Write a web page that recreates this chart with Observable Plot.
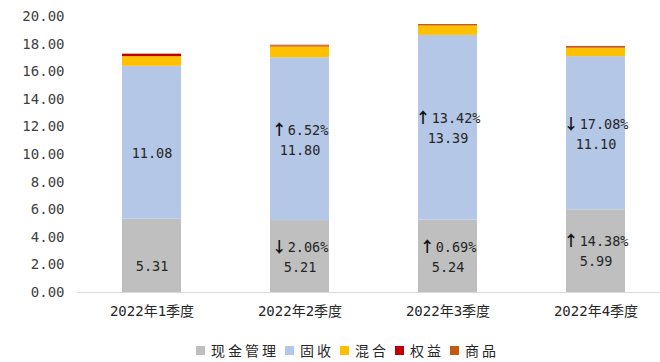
<!DOCTYPE html>
<html>
<head>
<meta charset="utf-8">
<script src="https://cdn.jsdelivr.net/npm/d3@7"></script>
<script src="https://cdn.jsdelivr.net/npm/@observablehq/plot@0.6"></script>
<style>
  html, body { margin: 0; padding: 0; background: #fff; }
  #wrap { position: relative; width: 660px; height: 362px; overflow: hidden; }
  #legend { position: absolute; left: 196px; top: 340px; display: flex; align-items: center;
    font-family: "Noto Sans CJK SC", sans-serif; font-size: 14px; color: #262626; letter-spacing: 3px; }
  #legend .item { display: flex; align-items: center; margin-right: 6px; }
  #legend .sw { width: 9px; height: 9px; margin-right: 6px; }
</style>
</head>
<body>
<div id="wrap"><div id="chart"></div><div id="legend"></div></div>
<script>
const quarters = ["2022年1季度", "2022年2季度", "2022年3季度", "2022年4季度"];
const series = ["现金管理", "固收", "混合", "权益", "商品"];
const colors = ["#BFBFBF", "#B4C7E7", "#FFC000", "#C00000", "#C55A11"];
const cash = [5.31, 5.21, 5.24, 5.99];
const fixedIncome = [11.08, 11.80, 13.39, 11.10];
const mixed = [0.70, 0.79, 0.69, 0.60];
const equity = [0.17, 0.05, 0.02, 0.02];
const commodity = [0.02, 0.07, 0.08, 0.12];
const cashChange = [null, "↓2.06%", "↑0.69%", "↑14.38%"];
const fixedChange = [null, "↑6.52%", "↑13.42%", "↓17.08%"];
const yTicks = [0, 2, 4, 6, 8, 10, 12, 14, 16, 18, 20];

const valuesBySeries = [cash, fixedIncome, mixed, equity, commodity];
const rows = [];
quarters.forEach((q, i) => {
  series.forEach((s, j) => rows.push({quarter: q, series: s, value: valuesBySeries[j][i]}));
});

const labels = [];
quarters.forEach((q, i) => {
  const cashMid = cash[i] / 2;
  const fixedMid = cash[i] + fixedIncome[i] / 2;
  labels.push({quarter: q, y: cashMid, text: cash[i].toFixed(2), kind: "value"});
  labels.push({quarter: q, y: fixedMid, text: fixedIncome[i].toFixed(2), kind: "value"});
  if (cashChange[i]) labels.push({quarter: q, y: cashMid, text: cashChange[i], kind: "pct"});
  if (fixedChange[i]) labels.push({quarter: q, y: fixedMid, text: fixedChange[i], kind: "pct"});
});

const numFont = "'DejaVu Sans Mono', 'Noto Sans CJK SC', monospace";

const chart = Plot.plot({
  width: 660,
  height: 330,
  marginLeft: 77,
  marginRight: 0,
  marginTop: 16,
  marginBottom: 38,
  style: {background: "#fff", fontFamily: numFont, fontSize: "14px", color: "#404040"},
  x: {domain: quarters, range: [77, 671], paddingInner: 0.6, paddingOuter: 0.3, label: null},
  y: {domain: [0, 20], label: null},
  color: {domain: series, range: colors},
  marks: [
    Plot.barY(rows, Plot.stackY({x: "quarter", y: "value", fill: "series", order: series})),
    Plot.ruleY([0], {stroke: "#D9D9D9", strokeWidth: 1.2}),
    Plot.axisY({ticks: yTicks, tickFormat: d3.format(".2f"), tickSize: 0, tickPadding: 13,
      fontSize: 14, fill: "#404040"}),
    Plot.axisX({tickSize: 0, tickPadding: 14, fontSize: 14, fill: "#262626",
      style: {letterSpacing: "1px"}}),
    Plot.text(labels.filter(d => d.kind === "value"), {x: "quarter", y: "y", text: "text", dy: 11,
      fontSize: 13.5, fill: "#262626"}),
    Plot.text(labels.filter(d => d.kind === "pct"), {x: "quarter", y: "y", text: "text", dy: -9,
      fontSize: 13.5, fill: "#262626", className: "pct-label"})
  ]
});

// make the arrow glyphs bold and larger, like the reference
chart.querySelectorAll(".pct-label text").forEach(t => {
  const s = t.textContent;
  const arrow = s[0];
  const rest = s.slice(1);
  t.textContent = "";
  const a = document.createElementNS("http://www.w3.org/2000/svg", "tspan");
  a.textContent = arrow;
  a.setAttribute("font-family", "'Noto Sans CJK SC', sans-serif");
  a.setAttribute("font-weight", "bold");
  a.setAttribute("font-size", "15");
  a.setAttribute("fill", "#111");
  const r = document.createElementNS("http://www.w3.org/2000/svg", "tspan");
  r.textContent = rest;
  r.setAttribute("dx", "1");
  t.appendChild(a);
  t.appendChild(r);
});
document.getElementById("chart").appendChild(chart);

const legend = document.getElementById("legend");
series.forEach((s, j) => {
  const item = document.createElement("div");
  item.className = "item";
  const sw = document.createElement("div");
  sw.className = "sw";
  sw.style.background = colors[j];
  const t = document.createElement("span");
  t.textContent = s;
  item.appendChild(sw);
  item.appendChild(t);
  legend.appendChild(item);
});
</script>
</body>
</html>
